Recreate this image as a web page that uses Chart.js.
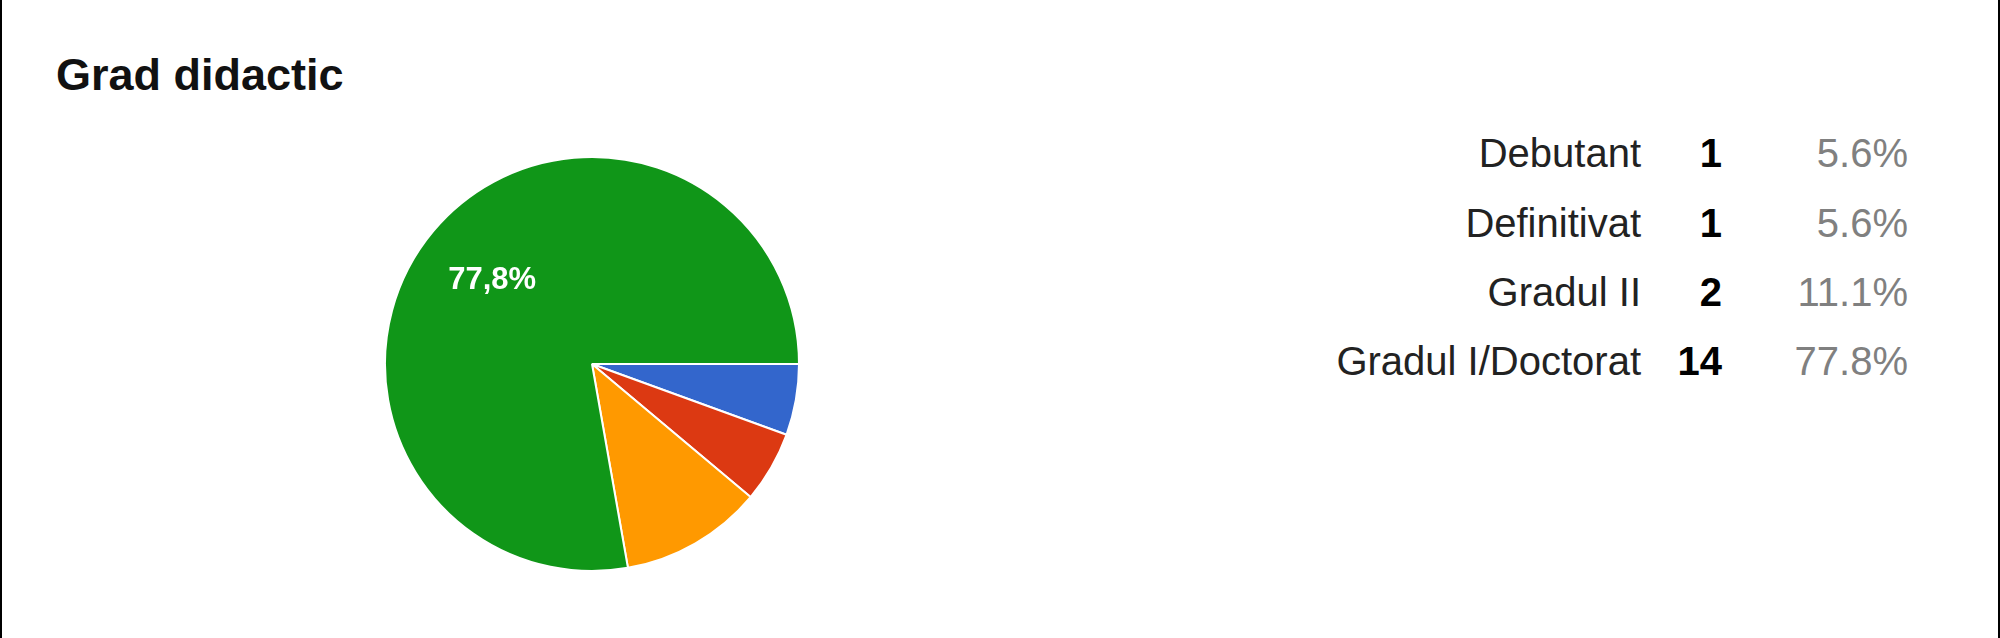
<!DOCTYPE html>
<html>
<head>
<meta charset="utf-8">
<script src="https://cdn.jsdelivr.net/npm/chart.js@4"></script>
<style>
    html, body {
        margin: 0;
        padding: 0;
        background: #fff;
    }
    body {
        width: 2000px;
        height: 638px;
        position: relative;
        overflow: hidden;
        font-family: 'Liberation Sans', Arial, sans-serif;
    }
    .frame {
        position: absolute;
        left: 0;
        top: 0;
        width: 1996px;
        height: 638px;
        border-left: 2px solid #000;
        border-right: 2px solid #000;
    }
    .title {
        position: absolute;
        left: 56px;
        top: 49px;
        font-size: 45px;
        font-weight: bold;
        color: #111;
    }
    .pie-box {
        position: absolute;
        left: 384px;
        top: 156px;
        width: 416px;
        height: 416px;
    }
    .legend-cell {
        position: absolute;
        font-size: 40px;
        line-height: 40px;
        white-space: nowrap;
    }
    .legend-name { color: #222; }
    .legend-count { color: #000; font-weight: bold; }
    .legend-pct { color: #808080; }
</style>
</head>
<body>
<div class="frame"></div>
<div class="title">Grad didactic</div>
<div class="pie-box"><canvas id="pieChart"></canvas></div>
<div id="legendTable"></div>

<script>
// Data
const categories = ['Debutant', 'Definitivat', 'Gradul II', 'Gradul I/Doctorat'];
const counts = [1, 1, 2, 14];
const sliceColors = ['#3366cc', '#dc3912', '#ff9900', '#109618'];

const total = counts.reduce((a, b) => a + b, 0);

document.addEventListener('DOMContentLoaded', () => {
    buildLegendTable();
    initPieChart();
});

function buildLegendTable() {
    const table = document.getElementById('legendTable');
    const rowTops = [133, 203, 272, 341];
    // right edges of the three columns
    const nameRight = 2000 - 1641;
    const countRight = 2000 - 1722;
    const pctRight = 2000 - 1908;

    table.innerHTML = categories.map((name, i) => {
        const pct = (counts[i] / total * 100).toFixed(1) + '%';
        const top = rowTops[i];
        return `
            <span class="legend-cell legend-name" style="top:${top}px; right:${nameRight}px;">${name}</span>
            <span class="legend-cell legend-count" style="top:${top}px; right:${countRight}px;">${counts[i]}</span>
            <span class="legend-cell legend-pct" style="top:${top}px; right:${pctRight}px;">${pct}</span>
        `;
    }).join('');
}

// Writes the percentage inside the big slices, like the original
const sliceLabels = {
    id: 'sliceLabels',
    afterDatasetsDraw(chart) {
        const ctx = chart.ctx;
        const meta = chart.getDatasetMeta(0);
        ctx.save();
        ctx.font = 'bold 31px "Liberation Sans", Arial, sans-serif';
        ctx.fillStyle = '#ffffff';
        ctx.textAlign = 'center';
        ctx.textBaseline = 'middle';
        meta.data.forEach((arc, i) => {
            const share = counts[i] / total;
            if (share < 0.2) return;
            const mid = (arc.startAngle + arc.endAngle) / 2;
            const r = arc.outerRadius * 0.63;
            const x = arc.x + Math.cos(mid) * r;
            const y = arc.y + Math.sin(mid) * r;
            ctx.fillText((share * 100).toFixed(1).replace('.', ',') + '%', x, y);
        });
        ctx.restore();
    }
};

function initPieChart() {
    const ctx = document.getElementById('pieChart').getContext('2d');

    new Chart(ctx, {
        type: 'pie',
        data: {
            labels: categories,
            datasets: [{
                data: counts,
                backgroundColor: sliceColors,
                borderColor: '#ffffff',
                borderWidth: 2
            }]
        },
        options: {
            responsive: true,
            maintainAspectRatio: false,
            animation: false,
            rotation: 90,
            layout: { padding: 0 },
            plugins: {
                legend: { display: false },
                tooltip: { enabled: false },
                title: { display: false }
            }
        },
        plugins: [sliceLabels]
    });
}
</script>
</body>
</html>
